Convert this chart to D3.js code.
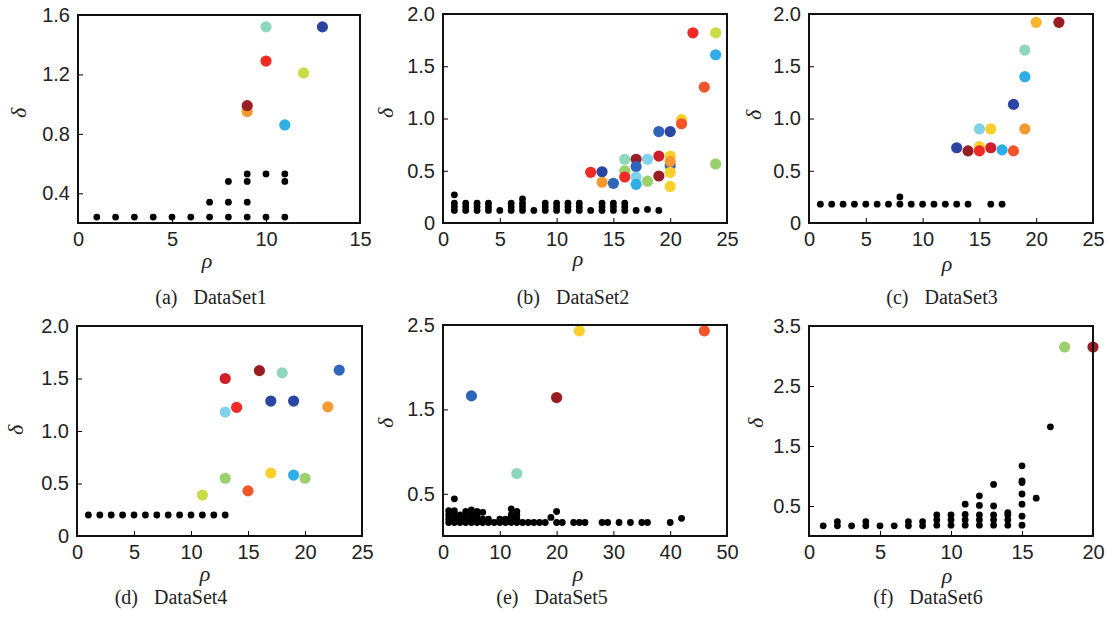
<!DOCTYPE html>
<html>
<head>
<meta charset="utf-8">
<script src="https://cdn.jsdelivr.net/npm/d3@7"></script>
<style>
  body { margin: 0; background: #fff; }
  svg { display: block; font-family: "Liberation Serif", "Times New Roman", serif; }
</style>
</head>
<body>
<svg id="fig" width="1108" height="620"></svg>
<script>
// ---- data: [rho, delta] ----
const ds1Points = [
  [1, 0.24], [2, 0.24], [3, 0.24], [4, 0.24], [5, 0.24], [6, 0.24], [7, 0.24], [8, 0.24], [9, 0.24], [10, 0.24], [11, 0.24],
  [7, 0.34], [8, 0.34], [9, 0.34],
  [8, 0.48], [9, 0.48], [11, 0.48],
  [9, 0.53], [10, 0.53], [11, 0.53],
];
const ds1Centers = [[10, 1.52], [13, 1.52], [10, 1.29], [12, 1.21], [9, 0.95], [9, 0.99], [11, 0.86]];
const ds1CenterColors = ["mint", "navy", "red", "lime", "orange", "maroon", "sky"];

const ds2Points = [
  [1, 0.27], [7, 0.23],
  [1, 0.19], [1, 0.155], [1, 0.12], [2, 0.19], [2, 0.155], [2, 0.12], [3, 0.19], [3, 0.155], [3, 0.12],
  [4, 0.19], [4, 0.155], [4, 0.12], [5, 0.12], [6, 0.19], [6, 0.155], [6, 0.12], [7, 0.19], [7, 0.155], [7, 0.12],
  [8, 0.12], [9, 0.19], [9, 0.155], [9, 0.12], [10, 0.19], [10, 0.155], [10, 0.12], [11, 0.19], [11, 0.155], [11, 0.12],
  [12, 0.19], [12, 0.155], [12, 0.12], [13, 0.12], [14, 0.19], [14, 0.155], [14, 0.12], [15, 0.19], [15, 0.155], [15, 0.12],
  [16, 0.19], [16, 0.155], [16, 0.12], [17, 0.12], [18, 0.13], [19, 0.12],
];
const ds2Centers = [
  [13, 0.485], [14, 0.49], [14, 0.39], [15, 0.38], [16, 0.61], [16, 0.50], [16, 0.44],
  [17, 0.61], [17, 0.54], [17, 0.44], [17, 0.37], [18, 0.61], [18, 0.40],
  [19, 0.64], [19, 0.45], [19, 0.875], [20, 0.875], [20, 0.55], [20, 0.64], [20, 0.59], [20, 0.485], [20, 0.35],
  [21, 0.99], [21, 0.95], [22, 1.82], [23, 1.30], [24, 1.82], [24, 1.61], [24, 0.565],
];
const ds2CenterColors = [
  "red", "navy", "orange", "blue", "mint", "green", "red",
  "maroon", "blue", "ice", "sky", "ice", "green",
  "crimson", "maroon", "blue", "navy", "blue", "yellow", "orange", "yellow", "yellow",
  "yellow", "vermilion", "red", "vermilion", "lime", "sky", "green",
];

const ds3Points = [
  [1, 0.18], [2, 0.18], [3, 0.18], [4, 0.18], [5, 0.18], [6, 0.18], [7, 0.18], [8, 0.18], [8, 0.25],
  [9, 0.18], [10, 0.18], [11, 0.18], [12, 0.18], [13, 0.18], [14, 0.18], [16, 0.18], [17, 0.18],
];
const ds3Centers = [
  [13, 0.72], [14, 0.69], [15, 0.73], [15, 0.69], [16, 0.72], [17, 0.70], [18, 0.69],
  [15, 0.90], [16, 0.90], [19, 0.90], [18, 1.135], [19, 1.40], [19, 1.655], [20, 1.92], [22, 1.92],
];
const ds3CenterColors = [
  "navy", "maroon", "yellow", "red", "crimson", "sky", "vermilion",
  "ice", "yellow", "orange", "navy", "sky", "mint", "amber", "maroon",
];

const ds4Points = [
  [1, 0.2], [2, 0.2], [3, 0.2], [4, 0.2], [5, 0.2], [6, 0.2], [7, 0.2], [8, 0.2], [9, 0.2], [10, 0.2], [11, 0.2], [12, 0.2], [13, 0.2],
];
const ds4Centers = [
  [13, 1.50], [16, 1.575], [18, 1.555], [23, 1.58], [13, 1.18], [14, 1.225], [17, 1.285], [19, 1.285], [22, 1.23],
  [11, 0.39], [13, 0.55], [15, 0.43], [17, 0.60], [19, 0.58], [20, 0.55],
];
const ds4CenterColors = [
  "crimson", "maroon", "mint", "blue", "ice", "red", "navy", "navy", "orange",
  "lime", "green", "vermilion", "yellow", "sky", "green",
];

const ds5Points = [
  [1, 0.16], [1, 0.2], [1, 0.25], [1, 0.3], [2, 0.44], [2, 0.3], [2, 0.25], [2, 0.2], [2, 0.16],
  [3, 0.16], [3, 0.2], [3, 0.25], [4, 0.16], [4, 0.2], [4, 0.25], [4, 0.29],
  [5, 0.16], [5, 0.2], [5, 0.25], [5, 0.31], [6, 0.16], [6, 0.2], [6, 0.25], [6, 0.29],
  [7, 0.16], [7, 0.2], [7, 0.28], [8, 0.16], [8, 0.2], [9, 0.16], [10, 0.16], [10, 0.2], [11, 0.16], [11, 0.2],
  [12, 0.16], [12, 0.2], [12, 0.25], [12, 0.32], [13, 0.16], [13, 0.2], [13, 0.25], [13, 0.29],
  [14, 0.16], [15, 0.16], [16, 0.16], [17, 0.16], [18, 0.16], [19, 0.22], [20, 0.29], [20, 0.16], [21, 0.16],
  [23, 0.16], [24, 0.16], [25, 0.16], [28, 0.16], [29, 0.16], [31, 0.16], [33, 0.16], [35, 0.16], [36, 0.16],
  [40, 0.16], [42, 0.21],
];
const ds5Centers = [[5, 1.66], [20, 1.64], [13, 0.74], [24, 2.43], [46, 2.43]];
const ds5CenterColors = ["blue", "maroon", "mint", "yellow", "vermilion"];

const ds6Points = [
  [1, 0.17], [2, 0.24], [2, 0.17], [3, 0.17], [4, 0.24], [4, 0.17], [5, 0.17], [6, 0.17],
  [7, 0.24], [7, 0.17], [8, 0.24], [8, 0.17],
  [9, 0.35], [9, 0.27], [9, 0.18], [10, 0.35], [10, 0.27], [10, 0.18],
  [11, 0.53], [11, 0.36], [11, 0.27], [11, 0.18],
  [12, 0.67], [12, 0.51], [12, 0.35], [12, 0.27], [12, 0.18],
  [13, 0.86], [13, 0.50], [13, 0.35], [13, 0.27], [13, 0.18],
  [14, 0.39], [14, 0.35], [14, 0.27], [14, 0.18],
  [15, 1.17], [15, 0.92], [15, 0.89], [15, 0.70], [15, 0.53], [15, 0.33], [15, 0.18],
  [16, 0.63], [17, 1.82],
];
const ds6Centers = [[18, 3.15], [20, 3.15]];
const ds6CenterColors = ["green", "maroon"];

const captions = ["(a)", "(b)", "(c)", "(d)", "(e)", "(f)"];
const datasetNames = ["DataSet1", "DataSet2", "DataSet3", "DataSet4", "DataSet5", "DataSet6"];

// ---- styling ----
const palette = {
  mint: "#8ed7bd", navy: "#2a46a2", blue: "#2f66bc", red: "#ee2b25", crimson: "#cf1f2b",
  maroon: "#981e24", lime: "#c9dc48", green: "#9bd16c", orange: "#f59a30", amber: "#f7b52a",
  vermilion: "#f1562a", yellow: "#f9cf2c", sky: "#2fade6", ice: "#80d2e8",
};

const panels = [
  { pts: ds1Points, ctr: ds1Centers, col: ds1CenterColors, box: [78, 15, 360, 223], xd: [0, 15], xt: [0, 5, 10, 15], yd: [0.2, 1.6], yt: [0.4, 0.8, 1.2, 1.6], rho: [207, 260], del: [18, 113], cap: [211, 304] },
  { pts: ds2Points, ctr: ds2Centers, col: ds2CenterColors, box: [443, 14, 727, 223], xd: [0, 25], xt: [0, 5, 10, 15, 20, 25], yd: [0, 2], yt: [0, 0.5, 1, 1.5, 2], rho: [578, 258], del: [385, 113], cap: [573, 304] },
  { pts: ds3Points, ctr: ds3Centers, col: ds3CenterColors, box: [809, 14, 1093, 223], xd: [0, 25], xt: [0, 5, 10, 15, 20, 25], yd: [0, 2], yt: [0, 0.5, 1, 1.5, 2], rho: [947, 263], del: [753, 115], cap: [942, 304] },
  { pts: ds4Points, ctr: ds4Centers, col: ds4CenterColors, box: [77, 326, 362, 536], xd: [0, 25], xt: [0, 5, 10, 15, 20, 25], yd: [0, 2], yt: [0, 0.5, 1, 1.5, 2], rho: [205, 573], del: [15, 430], cap: [171, 604] },
  { pts: ds5Points, ctr: ds5Centers, col: ds5CenterColors, box: [443, 325, 727, 536], xd: [0, 50], xt: [0, 10, 20, 30, 40, 50], yd: [0, 2.5], yt: [0.5, 1.5, 2.5], rho: [578, 573], del: [385, 423], cap: [552, 604] },
  { pts: ds6Points, ctr: ds6Centers, col: ds6CenterColors, box: [809, 326, 1093, 536], xd: [0, 20], xt: [0, 5, 10, 15, 20], yd: [0, 3.5], yt: [0.5, 1.5, 2.5, 3.5], rho: [947, 575], del: [755, 423], cap: [928, 604] },
];

const svg = d3.select("#fig");
const yFmt = (d) => (d === 0 ? "0" : d3.format(".1f")(d));

panels.forEach((p, i) => {
  const [x0, y0, x1, y1] = p.box;
  const x = d3.scaleLinear().domain(p.xd).range([x0, x1]);
  const y = d3.scaleLinear().domain(p.yd).range([y1, y0]);
  const g = svg.append("g");

  g.append("g")
    .attr("transform", `translate(0, ${y1})`)
    .call(d3.axisBottom(x).tickValues(p.xt).tickSize(-5).tickPadding(9).tickFormat(d3.format("d")))
    .call((a) => a.select(".domain").remove())
    .call((a) => a.selectAll("text").style("font-size", "20px").attr("fill", "#222"));

  g.append("g")
    .attr("transform", `translate(${x0}, 0)`)
    .call(d3.axisLeft(y).tickValues(p.yt).tickSize(-5).tickPadding(8).tickFormat(yFmt))
    .call((a) => a.select(".domain").remove())
    .call((a) => a.selectAll("text").style("font-size", "20px").attr("fill", "#222"));

  g.selectAll(".pt")
    .data(p.pts)
    .enter()
    .append("circle")
    .attr("class", "pt")
    .attr("cx", (d) => x(d[0]))
    .attr("cy", (d) => y(d[1]))
    .attr("r", 3.4)
    .attr("fill", "#000");

  g.selectAll(".ctr")
    .data(p.ctr)
    .enter()
    .append("circle")
    .attr("class", "ctr")
    .attr("cx", (d) => x(d[0]))
    .attr("cy", (d) => y(d[1]))
    .attr("r", 5.6)
    .attr("fill", (d, j) => palette[p.col[j]]);

  g.append("rect")
    .attr("x", x0).attr("y", y0)
    .attr("width", x1 - x0).attr("height", y1 - y0)
    .attr("fill", "none")
    .attr("stroke", "#111")
    .attr("stroke-width", 2);

  g.append("text")
    .attr("x", p.rho[0]).attr("y", p.rho[1])
    .attr("text-anchor", "middle")
    .attr("dominant-baseline", "central")
    .style("font-size", "22px").style("font-style", "italic")
    .attr("fill", "#222")
    .text("ρ");

  g.append("text")
    .attr("transform", `translate(${p.del[0]}, ${p.del[1]}) rotate(-90)`)
    .attr("text-anchor", "middle")
    .attr("dominant-baseline", "central")
    .style("font-size", "22px").style("font-style", "italic")
    .attr("fill", "#222")
    .text("δ");

  const cap = g.append("text")
    .attr("x", p.cap[0]).attr("y", p.cap[1])
    .attr("text-anchor", "middle")
    .style("font-size", "20px")
    .attr("fill", "#222");
  cap.append("tspan").text(captions[i]);
  cap.append("tspan").attr("dx", 16).text(datasetNames[i]);
});
</script>
</body>
</html>
